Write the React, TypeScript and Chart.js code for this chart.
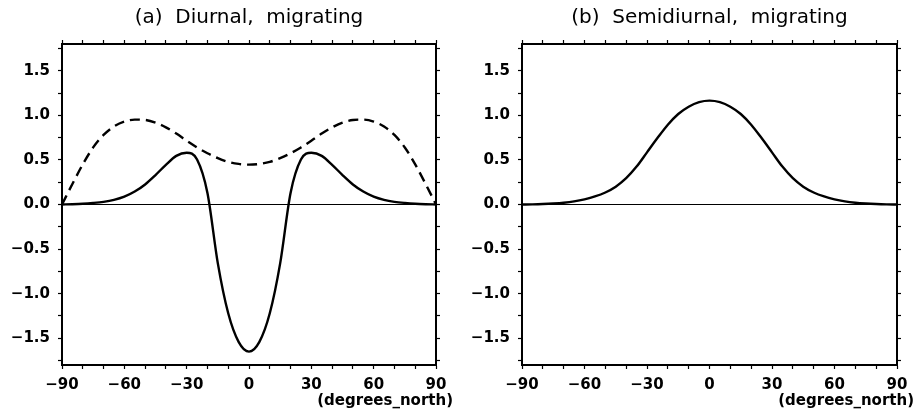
import React, { useEffect, useRef } from "react";
import { Chart, registerables } from "chart.js";

Chart.register(...registerables);

const latitudes = [
  -90, -85, -80, -75, -70, -65, -60, -55, -50, -45, -40, -35, -30, -25, -20, -15, -10, -5,
  0, 5, 10, 15, 20, 25, 30, 35, 40, 45, 50, 55, 60, 65, 70, 75, 80, 85, 90,
];

const diurnalSolid = [
  0, 0.003, 0.008, 0.017, 0.03, 0.052, 0.088, 0.145, 0.225, 0.33, 0.445, 0.545, 0.58, 0.505, 0.13, -0.66, -1.22, -1.54,
  -1.65, -1.54, -1.22, -0.66, 0.13, 0.505, 0.58, 0.545, 0.445, 0.33, 0.225, 0.145, 0.088, 0.052, 0.03, 0.017, 0.008, 0.003, 0,
];

const diurnalDashed = [
  0, 0.23, 0.45, 0.64, 0.78, 0.875, 0.93, 0.952, 0.948, 0.918, 0.865, 0.795, 0.715, 0.64, 0.575, 0.52, 0.478, 0.455,
  0.447, 0.455, 0.478, 0.52, 0.575, 0.64, 0.715, 0.795, 0.865, 0.918, 0.948, 0.952, 0.93, 0.875, 0.78, 0.64, 0.45, 0.23, 0,
];

const semidiurnal = [
  0, 0.0015, 0.005, 0.011, 0.02, 0.035, 0.058, 0.09, 0.135, 0.2, 0.295, 0.425, 0.585, 0.745, 0.895, 1.015, 1.097, 1.148,
  1.165, 1.148, 1.097, 1.015, 0.895, 0.745, 0.585, 0.425, 0.295, 0.2, 0.135, 0.09, 0.058, 0.035, 0.02, 0.011, 0.005, 0.0015, 0,
];

const zeroLineX = [-90, 90];
const zeroLineY = [0, 0];

const xTickValues = [-90, -80, -70, -60, -50, -40, -30, -20, -10, 0, 10, 20, 30, 40, 50, 60, 70, 80, 90];
const xLabelStep = 30;
const yTickValues = [-1.75, -1.5, -1.25, -1, -0.75, -0.5, -0.25, 0, 0.25, 0.5, 0.75, 1, 1.25, 1.5, 1.75];
const yLabelStep = 0.5;

const X_MIN = -90;
const X_MAX = 90;
const Y_MIN = -1.8;
const Y_MAX = 1.8;

const PANEL_W = 458;
const PANEL_H = 413;
const PLOT_TOP = 44;
const PLOT_BOTTOM = 365;

const fmtNum = (v: number, digits: number) => {
  const s = digits > 0 ? v.toFixed(digits) : String(Math.round(v));
  return s.replace("-", "\u2212");
};

type Series = { values: number[]; dashed: boolean };

function Panel(props: { left: number; plotLeft: number; plotRight: number; title: string; series: Series[] }) {
  const ref = useRef<HTMLCanvasElement | null>(null);

  useEffect(() => {
    const canvas = ref.current;
    if (!canvas) return;

    const gridCfg = {
      drawOnChartArea: false,
      drawTicks: true,
      tickLength: 4,
      color: "#000",
      tickColor: "#000",
      tickWidth: 1.2,
    };
    const borderCfg = { display: true, color: "#000", width: 2 };
    const tickFont = { family: "'DejaVu Sans', sans-serif", size: 15, weight: "bold" as const };

    const datasets: any[] = [
      {
        data: zeroLineX.map((x, i) => ({ x, y: zeroLineY[i] })),
        borderColor: "#000",
        borderWidth: 1,
        pointRadius: 0,
        tension: 0,
        xAxisID: "x",
        yAxisID: "y",
      },
      ...props.series.map((s) => ({
        data: latitudes.map((x, i) => ({ x, y: s.values[i] })),
        borderColor: "#000",
        borderWidth: 2.4,
        borderDash: s.dashed ? [10, 6] : [],
        pointRadius: 0,
        cubicInterpolationMode: "monotone",
        xAxisID: "x",
        yAxisID: "y",
      })),
    ];

    const decorations = {
      id: "decorations",
      afterDraw(chart: any) {
        const ctx = chart.ctx;
        const ca = chart.chartArea;
        ctx.save();
        ctx.fillStyle = "#000";
        ctx.font = "20px 'DejaVu Sans', sans-serif";
        ctx.textAlign = "center";
        ctx.textBaseline = "middle";
        ctx.fillText(props.title, (ca.left + ca.right) / 2, 18);
        ctx.font = "bold 15px 'DejaVu Sans', sans-serif";
        ctx.textAlign = "right";
        ctx.fillText("(degrees_north)", ca.right + 17, 401);
        ctx.restore();
      },
    };

    const chart = new Chart(canvas, {
      type: "line",
      data: { datasets },
      options: {
        animation: false,
        responsive: false,
        maintainAspectRatio: false,
        layout: { padding: 0 },
        plugins: { legend: { display: false }, tooltip: { enabled: false }, title: { display: false } },
        scales: {
          x: {
            type: "linear",
            position: "bottom",
            min: X_MIN,
            max: X_MAX,
            afterBuildTicks: (s: any) => {
              s.ticks = xTickValues.map((v) => ({ value: v }));
            },
            afterFit: (s: any) => {
              s.height = PANEL_H - PLOT_BOTTOM;
            },
            ticks: {
              autoSkip: false,
              maxRotation: 0,
              padding: 7,
              color: "#000",
              font: tickFont,
              callback: (v: any) => (Number(v) % xLabelStep === 0 ? fmtNum(Number(v), 0) : ""),
            },
            grid: gridCfg,
            border: borderCfg,
          },
          x2: {
            type: "linear",
            position: "top",
            min: X_MIN,
            max: X_MAX,
            afterBuildTicks: (s: any) => {
              s.ticks = xTickValues.map((v) => ({ value: v }));
            },
            afterFit: (s: any) => {
              s.height = PLOT_TOP;
            },
            ticks: { display: false },
            grid: gridCfg,
            border: borderCfg,
          },
          y: {
            type: "linear",
            position: "left",
            min: Y_MIN,
            max: Y_MAX,
            afterBuildTicks: (s: any) => {
              s.ticks = yTickValues.map((v) => ({ value: v }));
            },
            afterFit: (s: any) => {
              s.width = props.plotLeft;
            },
            ticks: {
              autoSkip: false,
              padding: 8,
              color: "#000",
              font: tickFont,
              callback: (v: any) => {
                const n = Number(v);
                return Math.abs(n / yLabelStep - Math.round(n / yLabelStep)) < 1e-6 ? fmtNum(n, 1) : "";
              },
            },
            grid: gridCfg,
            border: borderCfg,
          },
          y2: {
            type: "linear",
            position: "right",
            min: Y_MIN,
            max: Y_MAX,
            afterBuildTicks: (s: any) => {
              s.ticks = yTickValues.map((v) => ({ value: v }));
            },
            afterFit: (s: any) => {
              s.width = PANEL_W - props.plotRight;
            },
            ticks: { display: false },
            grid: gridCfg,
            border: borderCfg,
          },
        },
      } as any,
      plugins: [decorations],
    });

    return () => chart.destroy();
  }, []);

  return (
    <canvas
      ref={ref}
      width={PANEL_W}
      height={PANEL_H}
      style={{ position: "absolute", left: props.left, top: 0, width: PANEL_W, height: PANEL_H }}
    />
  );
}

export default function App() {
  return (
    <div style={{ position: "fixed", left: 0, top: 0, width: 916, height: 413, background: "#fff" }}>
      <Panel
        left={0}
        plotLeft={62}
        plotRight={436}
        title={"(a)  Diurnal,  migrating"}
        series={[
          { values: diurnalDashed, dashed: true },
          { values: diurnalSolid, dashed: false },
        ]}
      />
      <Panel
        left={458}
        plotLeft={64}
        plotRight={439}
        title={"(b)  Semidiurnal,  migrating"}
        series={[{ values: semidiurnal, dashed: false }]}
      />
    </div>
  );
}
